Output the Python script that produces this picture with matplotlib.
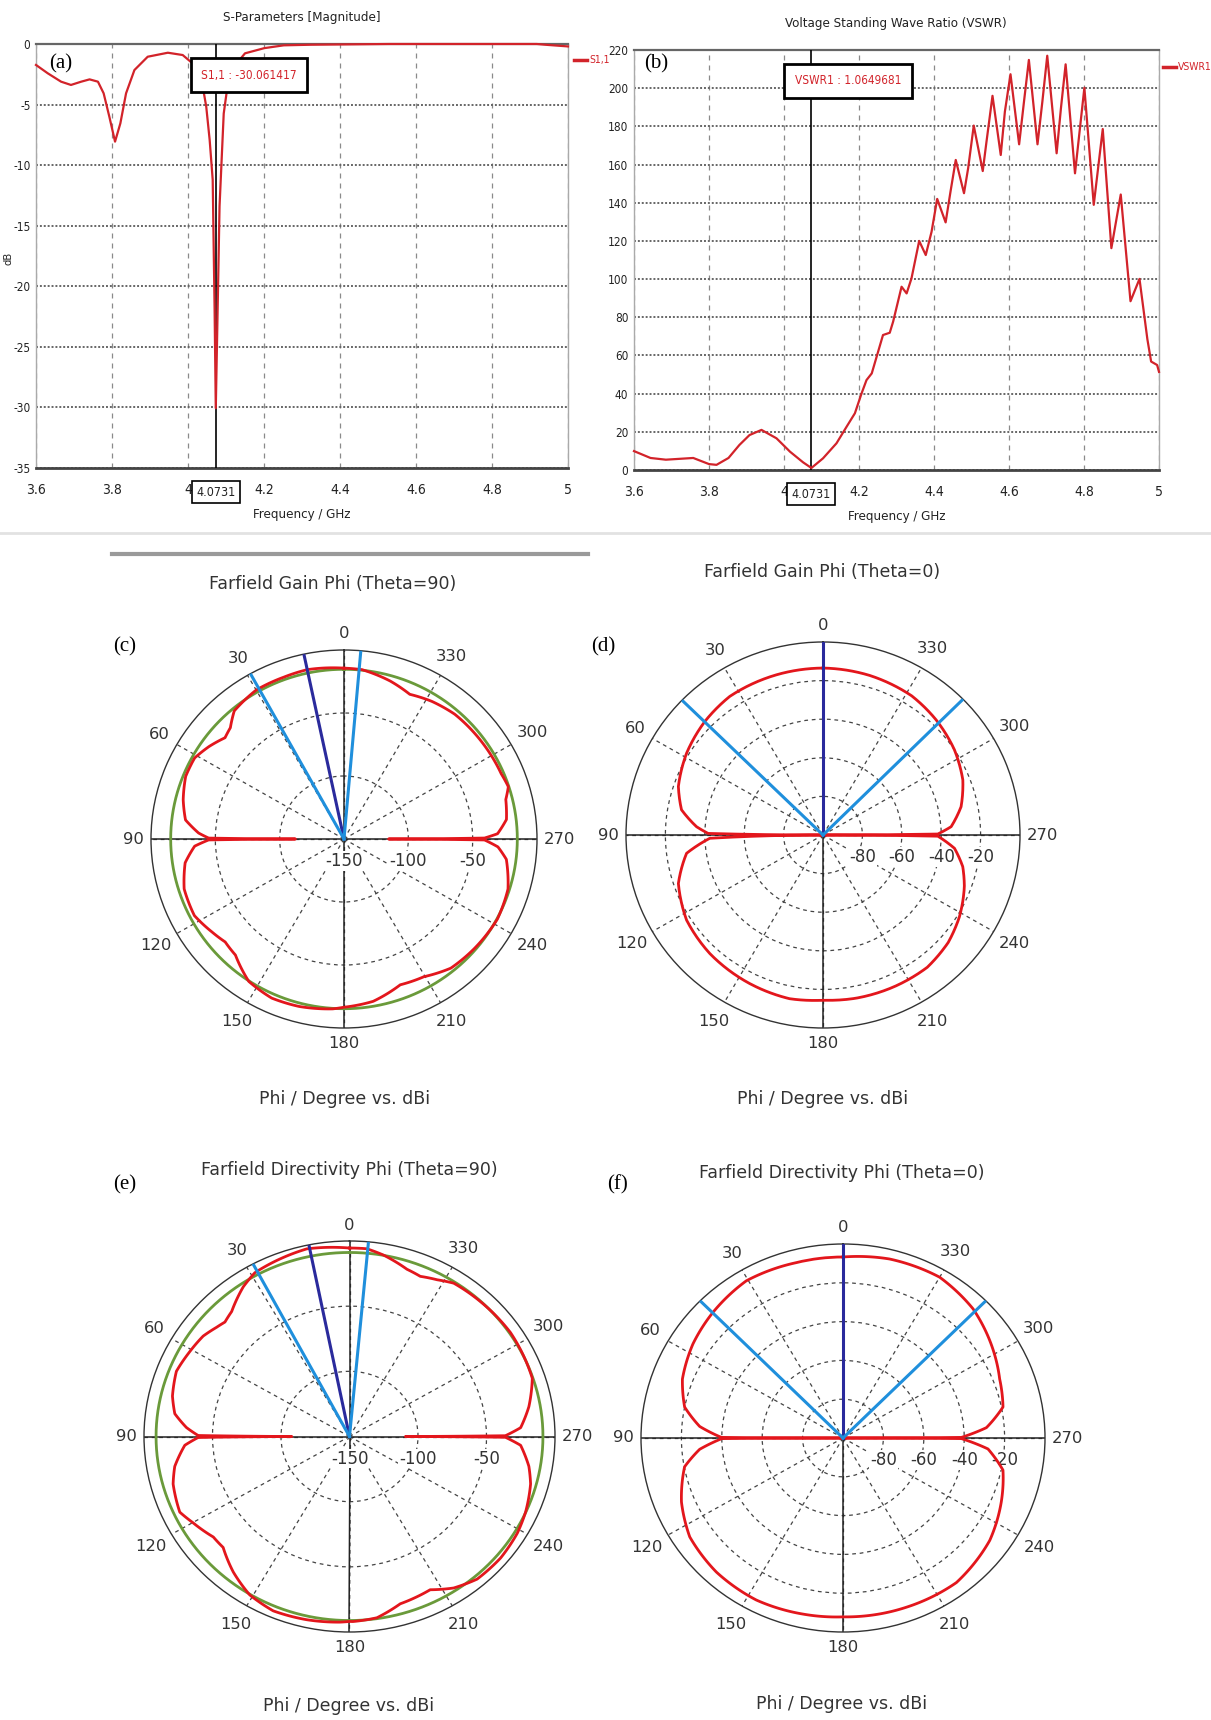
import numpy as np
import matplotlib
matplotlib.use('Agg')
import matplotlib.pyplot as plt
from matplotlib.lines import Line2D

# ---------------- data ----------------
s11_freq = [3.600, 3.631, 3.666, 3.692, 3.719, 3.741, 3.763, 3.778, 3.793, 3.808,
            3.822, 3.837, 3.859, 3.894, 3.947, 3.986, 4.017, 4.035, 4.048, 4.057,
            4.065, 4.070, 4.0731, 4.078, 4.083, 4.094, 4.109, 4.150, 4.201, 4.252,
            4.324, 4.529, 4.918, 4.940, 5.000]
s11_db = [-1.73, -2.42, -3.11, -3.38, -3.11, -2.92, -3.11, -4.07, -6.00, -8.06,
          -6.55, -4.07, -2.15, -1.05, -0.72, -0.91, -1.73, -2.83, -5.17, -7.92,
          -11.2, -21.9, -30.06, -21.9, -13.4, -5.74, -2.33, -0.77, -0.34, -0.11,
          -0.06, 0.0, 0.0, -0.06, -0.20]

vswr_freq = [3.600, 3.644, 3.685, 3.758, 3.800, 3.820, 3.852, 3.881, 3.908, 3.940,
             3.980, 4.016, 4.051, 4.0731, 4.104, 4.140, 4.167, 4.189, 4.207, 4.220,
             4.234, 4.264, 4.282, 4.291, 4.3135, 4.327, 4.340, 4.3605, 4.378, 4.3935,
             4.4085, 4.431, 4.444, 4.458, 4.480, 4.491, 4.506, 4.530, 4.540, 4.556,
             4.578, 4.589, 4.604, 4.627, 4.640, 4.653, 4.676, 4.689, 4.702, 4.727,
             4.7385, 4.751, 4.776, 4.801, 4.826, 4.850, 4.873, 4.898, 4.924, 4.948,
             4.969, 4.979, 4.995, 5.000]
vswr_val = [9.9, 6.3, 5.4, 6.3, 3.1, 2.7, 6.3, 13.1, 18.3, 21.0,
            16.6, 9.6, 4.0, 1.06, 6.1, 14.0, 22.7, 29.7, 40.2, 47.1,
            50.6, 70.7, 71.9, 77.7, 96.0, 92.5, 100.4, 120.0, 112.6, 124.8,
            142.0, 129.7, 145.8, 162.4, 145.0, 158.0, 180.4, 156.6, 172.0, 196.0,
            165.0, 187.7, 207.3, 170.6, 193.0, 214.8, 170.6, 193.0, 217.0, 165.9,
            189.5, 212.5, 155.4, 200.2, 138.9, 178.6, 116.2, 144.3, 88.4, 100.1,
            68.5, 56.8, 55.0, 51.4]

freq_ticks = [3.6, 3.8, 4.0, 4.2, 4.4, 4.6, 4.8, 5.0]
freq_labels = ['3.6', '3.8', '4', '4.2', '4.4', '4.6', '4.8', '5']
marker_freq = 4.0731

# (c) Farfield Gain Phi (Theta=90)
c_phi = [0, 12, 20, 30, 40, 45, 49, 55, 61, 68, 76, 83, 87.6, 89.6, 90, 90.4, 92.8,
         98.7, 107.7, 117.6, 125.7, 131.5, 137.5, 146.8, 156, 165.3, 176.3, 180, 183,
         190, 200.7, 209.6, 219, 229.4, 242, 252.7, 262.7, 267, 269.6, 270, 270.4,
         272, 277, 284, 288, 293, 306, 319, 328, 336, 344, 354, 360]
c_db = [-14.4, -12.6, -13.3, -13.5, -17.3, -25.1, -27.5, -22.0, -17.3, -17.3, -21.2,
        -25.9, -36.9, -44.8, -112.3, -44.8, -33.8, -25.1, -19.6, -18.8, -23.6, -26.7,
        -25.1, -14.9, -11.8, -12.6, -14.9, -16.5, -17.3, -19.2, -26.3, -24.3, -18.1,
        -16.5, -14.9, -16.5, -22.8, -30.2, -40.8, -115.4, -40.8, -30.6, -22.8, -20.4,
        -15.7, -17.3, -18.1, -18.8, -21.2, -24.3, -19.6, -14.9, -14.4]
c_green = -15.3
c_main = 12
c_beam = [29, 355]

# (d) Farfield Gain Phi (Theta=0)
d_phi = [0, 15.9, 33.4, 45.6, 58.5, 71.1, 79.7, 86.2, 89.2, 90, 91.7, 97.8, 108.9,
         122.5, 136.9, 154.2, 168.7, 180, 191.2, 204.8, 217.7, 228.8, 238.5, 249.5,
         257, 264.1, 269.4, 270, 270.5, 273.8, 281.8, 291.9, 303.5, 316.1, 328, 344,
         360]
d_db = [-13.5, -13.7, -14.0, -16.0, -18.8, -22.4, -27.0, -35.7, -41.7, -100, -42.5,
        -30.1, -22.4, -17.9, -15.9, -14.5, -13.5, -14.4, -13.8, -13.5, -13.4, -15.5,
        -18.8, -23.4, -27.2, -32.9, -41.7, -100, -41.7, -34.8, -28.4, -23.5, -20.0,
        -17.2, -15.0, -14.0, -13.5]
d_main = 0
d_beam = [45.7, 314.7]

# (e) Farfield Directivity Phi (Theta=90)
e_phi = [0, 12.2, 28.8, 34, 41.9, 46, 49.2, 54.2, 61.7, 68.4, 76.5, 82.2, 86.7, 89.6,
         90, 90.4, 93.2, 100.2, 105.8, 115.1, 120.1, 127.8, 132.7, 140.8, 149.1, 157.4,
         167.5, 177.2, 180, 181, 188.2, 196.1, 206.6, 213.2, 220.4, 229.8, 238.8,
         245.7, 254.6, 260.1, 266.9, 269.7, 270, 270.3, 273.1, 279.9, 288.5, 293.1,
         304.2, 315.9, 327.1, 332, 337.2, 341.9, 349.9, 355, 360]
e_db = [-5.4, -2.7, -6.6, -11.4, -21.2, -23.6, -21.8, -18.3, -16.2, -14.1, -17.1,
        -21.3, -30.8, -39.5, -107.9, -39.5, -29.6, -20.4, -16.2, -13.2, -18.0, -24.2,
        -24.5, -15.8, -8.3, -5.1, -6.0, -7.4, -8.1, -8.0, -9.5, -16.4, -18.5, -11.1,
        -6.3, -5.6, -6.8, -9.0, -12.9, -17.1, -24.9, -36.2, -109.2, -36.2, -24.9,
        -17.1, -9.3, -8.9, -8.0, -9.0, -9.9, -13.8, -16.7, -15.0, -8.6, -5.4, -5.4]
e_green = -8.8
e_main = 11.4
e_beam = [28, 354.7]

# (f) Farfield Directivity Phi (Theta=0)
f_phi = [0, 14.3, 30.6, 44.9, 56.9, 69.1, 78.5, 85.2, 89.7, 90, 90.3, 94.7, 100.7,
         112.4, 123.9, 137.8, 152.8, 167.7, 180, 199.8, 217, 234, 247.2, 258.2, 265.5,
         269.7, 270, 270.3, 274.3, 281.4, 291.4, 315.9, 330, 346, 360]
f_db = [-6.7, -6.7, -5.9, -8.7, -11.3, -14.9, -20.0, -28.8, -39.8, -100, -40.0, -28.8,
        -20.2, -13.5, -8.6, -6.7, -6.1, -7.1, -7.8, -7.3, -6.7, -10.2, -15.0, -19.1,
        -28.0, -41.4, -100, -41.4, -28.8, -19.2, -16.7, -7.4, -4.3, -4.9, -6.7]
f_main = 0
f_beam = [45, 315]

angle_ticks = list(range(0, 360, 30))
angle_labels = [str(a) for a in angle_ticks]

# ---------------- figure ----------------
W, H = 1211, 1720
fig = plt.figure(figsize=(W / 100, H / 100), dpi=100)
fig.patch.set_facecolor('white')

NARROW = dict(family=['DejaVu Sans'], fontstretch='condensed')
SERIF = ['Liberation Serif', 'DejaVu Serif']
RED_S = '#d2232a'


def rect(x0, y0, x1, y1):
    return [x0 / W, 1 - y1 / H, (x1 - x0) / W, (y1 - y0) / H]


def fx(x):
    return x / W


def fy(y):
    return 1 - y / H


def cart(r, xs, ys, ylim, yticks, title, title_xy, leg_text, leg_xy, mtext, mbox_xy):
    ax = fig.add_axes(r)
    ax.plot(xs, ys, color=RED_S, lw=1.6, zorder=5, clip_on=False)
    ax.axvline(marker_freq, color='black', lw=1.2, zorder=4)
    ax.set_xlim(3.6, 5.0)
    ax.set_ylim(*ylim)
    ax.set_xticks(freq_ticks)
    ax.set_xticklabels(freq_labels)
    ax.set_yticks(yticks)
    ax.set_yticklabels([str(v) for v in yticks])
    for lab in ax.get_xticklabels():
        lab.set_family(NARROW['family'])
        lab.set_fontstretch('condensed')
        lab.set_fontsize(10)
        lab.set_color('#222')
    for lab in ax.get_yticklabels():
        lab.set_family(NARROW['family'])
        lab.set_fontstretch('condensed')
        lab.set_fontsize(8.5)
        lab.set_color('#222')
    ax.tick_params(axis='x', length=0, pad=11)
    ax.tick_params(axis='y', length=0, pad=4)
    ax.xaxis.grid(True, ls=(0, (4, 4)), color='#8a8a8a', lw=0.9)
    ax.yaxis.grid(True, ls=(0, (1, 1)), color='#666666', lw=1.4)
    ax.set_axisbelow(True)
    for s in ['left', 'right']:
        ax.spines[s].set_color('#aaaaaa')
        ax.spines[s].set_linewidth(1.0)
    ax.spines['top'].set_color('#666666')
    ax.spines['top'].set_linewidth(1.6)
    ax.spines['bottom'].set_color('#444444')
    ax.spines['bottom'].set_linewidth(2.0)
    ax.set_xlabel('Frequency / GHz', fontsize=9.5, color='#222', labelpad=8, **NARROW)
    fig.text(fx(title_xy[0]), fy(title_xy[1]), title, fontsize=9.5,
             color='#222', ha='center', va='center', **NARROW)
    # marker readout box
    fig.text(fx(mbox_xy[0]), fy(mbox_xy[1]), mtext, fontsize=8.5,
             color=RED_S, ha='center', va='center',
             bbox=dict(boxstyle='square,pad=0.9', fc='white', ec='black', lw=2), **NARROW)
    # boxed marker tick
    ax.annotate('4.0731', xy=(marker_freq, 0), xycoords=('data', 'axes fraction'),
                xytext=(0, -24), textcoords='offset pixels', ha='center', va='center',
                fontsize=9, color='#222',
                bbox=dict(boxstyle='square,pad=0.35', fc='white', ec='black', lw=1.2),
                **NARROW)
    # legend
    fig.add_artist(Line2D([fx(leg_xy[0]), fx(leg_xy[0] + 13)], [fy(leg_xy[1])] * 2,
                          color=RED_S, lw=2.5))
    fig.text(fx(leg_xy[0] + 15), fy(leg_xy[1]), leg_text, fontsize=7.5,
             color=RED_S, ha='left', va='center', **NARROW)
    return ax


ax_a = cart(rect(36, 44, 568, 468), s11_freq, s11_db, (-35, 0), list(range(-35, 1, 5)),
            'S-Parameters [Magnitude]', (302, 17), 'S1,1', (574, 60),
            'S1,1 : -30.061417', (249, 75))
fig.text(fx(8), fy(258), 'dB', fontsize=8, color='#222', rotation=90,
         ha='center', va='center', **NARROW)

ax_b = cart(rect(634, 50, 1159, 470), vswr_freq, vswr_val, (0, 220), list(range(0, 221, 20)),
            'Voltage Standing Wave Ratio (VSWR)', (896, 24), 'VSWR1', (1163, 67),
            'VSWR1 : 1.0649681', (848, 81))

# panel labels for top plots
fig.text(fx(61), fy(64), '(a)', family=SERIF, fontsize=15, ha='center', va='center')
fig.text(fx(656), fy(64), '(b)', family=SERIF, fontsize=15, ha='center', va='center')

# faint panel border and separator
fig.add_artist(Line2D([0, 1], [fy(533)] * 2, color='#e2e2e2', lw=2))
fig.add_artist(Line2D([fx(112), fx(588)], [fy(554)] * 2, color='#9a9a9a', lw=3))


def polar(r, phi, db, rmin, rmax, rings, ring_labels, main, beam, green=None):
    ax = fig.add_axes(r, projection='polar')
    ax.set_aspect('auto')
    ax.set_theta_zero_location('N')
    ax.set_theta_direction(1)
    ax.set_ylim(rmin, rmax)
    ax.set_yticks(rings)
    ax.set_yticklabels([])
    ax.set_xticks(np.deg2rad(angle_ticks))
    ax.set_xticklabels([])
    ax.grid(True, color='#444444', ls=(0, (3, 3)), lw=0.9)
    ax.spines['polar'].set_color('#333333')
    ax.spines['polar'].set_linewidth(1.0)
    for a in (0, 90, 180, 270):
        ax.plot([np.deg2rad(a)] * 2, [rmin, rmax], color='#222222', lw=1.1, zorder=2)
    for v, lab in zip(ring_labels[0], ring_labels[1]):
        ax.annotate(lab, xy=(np.deg2rad(270), v), xytext=(0, -22), textcoords='offset pixels',
                    ha='center', va='center', fontsize=12, color='#333333',
                    bbox=dict(boxstyle='square,pad=0.05', fc='white', ec='none'),
                    zorder=2.5, annotation_clip=False)
    if green is not None:
        t = np.deg2rad(np.linspace(0, 360, 361))
        ax.plot(t, [green] * len(t), color='#6a9a3a', lw=2.0, zorder=3)
    ln, = ax.plot(np.deg2rad(phi), db, color='#e3161c', lw=2.0, zorder=4)
    ln.get_path()._interpolation_steps = 24
    ax.plot([np.deg2rad(main)] * 2, [rmin, rmax], color='#2a2a9c', lw=2.2, zorder=5)
    for b in beam:
        ax.plot([np.deg2rad(b)] * 2, [rmin, rmax], color='#1f8fdc', lw=2.2, zorder=5)
    # angle labels around the outer circle
    for a, lab in zip(angle_ticks, angle_labels):
        th = np.deg2rad(a)
        w = 9 * len(lab)
        d = 9 + 0.5 * (abs(np.sin(th)) * w + abs(np.cos(th)) * 14)
        ax.annotate(lab, xy=(th, rmax), xytext=(-d * np.sin(th), d * np.cos(th)),
                    textcoords='offset pixels', ha='center', va='center',
                    fontsize=11.8, color='#333333', annotation_clip=False)
    return ax


polar(rect(151, 650, 537, 1028), c_phi, c_db, -150, 0, [-100, -50],
      ([-150, -100, -50], ['-150', '-100', '-50']), c_main, c_beam, c_green)
polar(rect(626, 642, 1020, 1028), d_phi, d_db, -100, 0, [-80, -60, -40, -20],
      ([-80, -60, -40, -20], ['-80', '-60', '-40', '-20']), d_main, d_beam)
polar(rect(144, 1241, 555, 1632), e_phi, e_db, -150, 0, [-100, -50],
      ([-150, -100, -50], ['-150', '-100', '-50']), e_main, e_beam, e_green)
polar(rect(641, 1244, 1045, 1632), f_phi, f_db, -100, 0, [-80, -60, -40, -20],
      ([-80, -60, -40, -20], ['-80', '-60', '-40', '-20']), f_main, f_beam)

# polar titles / captions
TXT = dict(fontsize=12.5, color='#333333', ha='center', va='center', family='DejaVu Sans')
fig.text(fx(333), fy(584), 'Farfield Gain Phi (Theta=90)', **TXT)
fig.text(fx(822), fy(572), 'Farfield Gain Phi (Theta=0)', **TXT)
fig.text(fx(345), fy(1099), 'Phi / Degree vs. dBi', **TXT)
fig.text(fx(823), fy(1099), 'Phi / Degree vs. dBi', **TXT)
fig.text(fx(349), fy(1170), 'Farfield Directivity Phi (Theta=90)', **TXT)
fig.text(fx(842), fy(1173), 'Farfield Directivity Phi (Theta=0)', **TXT)
fig.text(fx(349), fy(1706), 'Phi / Degree vs. dBi', **TXT)
fig.text(fx(842), fy(1704), 'Phi / Degree vs. dBi', **TXT)

for lab, x, y in [('(c)', 125, 647), ('(d)', 603, 647), ('(e)', 125, 1185), ('(f)', 618, 1185)]:
    fig.text(fx(x), fy(y), lab, family=SERIF, fontsize=15, ha='center', va='center')

fig.savefig('out.png', dpi=100, facecolor='white')
